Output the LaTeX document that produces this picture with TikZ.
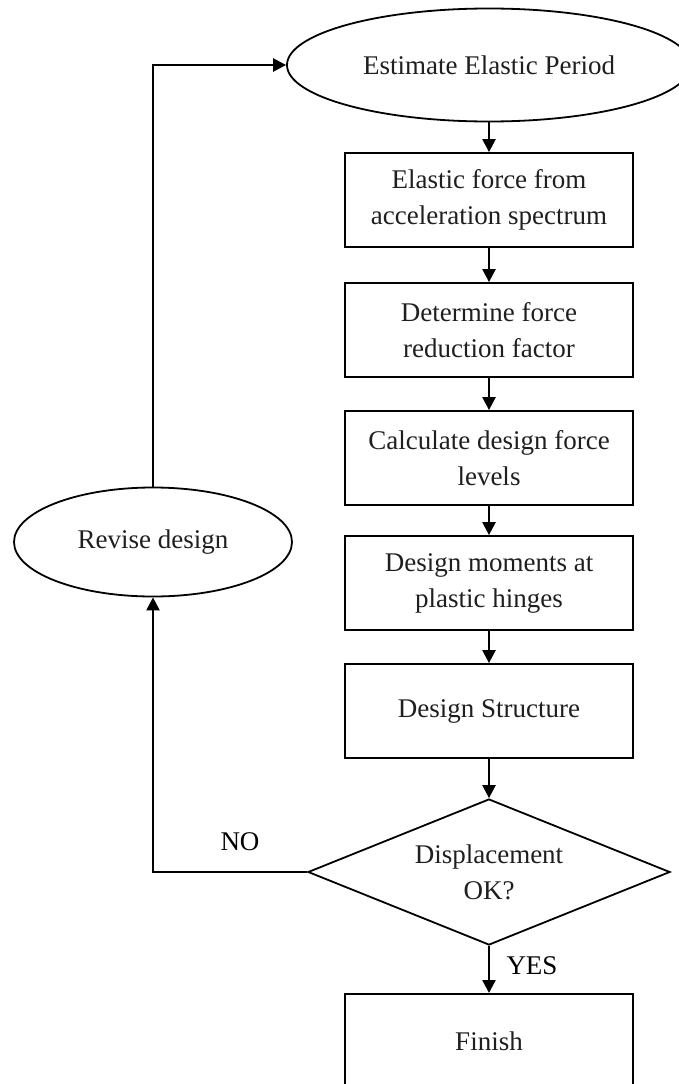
\documentclass[tikz,border=0pt]{standalone}
\usepackage{fontspec}
\setmainfont{Liberation Serif}
\usetikzlibrary{shapes.geometric,arrows.meta}
\begin{document}
\begin{tikzpicture}[x=1pt,y=-1pt,
  every node/.style={font=\fontsize{27}{36}\selectfont, text=black!88},
  stepbox/.style={draw, line width=1.8pt, minimum width=288pt, minimum height=94pt, align=center, inner sep=0pt},
  oval/.style={draw, ellipse, line width=1.8pt, inner sep=0pt},
  decision/.style={draw, diamond, aspect=2.48, line width=1.8pt, minimum width=362pt, minimum height=146pt, align=center, inner sep=0pt},
  flow/.style={line width=2.4pt, -{Triangle[width=13pt,length=13pt]}},
  lbl/.style={text=black}
]
\useasboundingbox (0,0) rectangle (679,1084);
\clip (0,0) rectangle (679,1084);

\node[oval, minimum width=404pt, minimum height=113pt] (period) at (489,65) {Estimate Elastic Period};
\node[stepbox] (elastic) at (489,200) {Elastic force from\\acceleration spectrum};
\node[stepbox] (reduction) at (489,330) {Determine force\\reduction factor};
\node[stepbox] (forces) at (489,458) {Calculate design force\\levels};
\node[stepbox] (moments) at (489,583) {Design moments at\\plastic hinges};
\node[stepbox] (structure) at (489,711) {Design Structure};
\node[decision] (check) at (489,872) {Displacement\\OK?};
\node[stepbox, anchor=north] (finish) at (489,993) {Finish};
\node[oval, minimum width=278pt, minimum height=109pt] (revise) at (153,542) {Revise design};

\node[lbl] (no) at (240,842) {NO};
\node[lbl] (yes) at (532,966) {YES};

\draw[flow] (period) -- (elastic);
\draw[flow] (elastic) -- (reduction);
\draw[flow] (reduction) -- (forces);
\draw[flow] (forces) -- (moments);
\draw[flow] (moments) -- (structure);
\draw[flow] (structure) -- (check);
\draw[flow] (check) -- (finish);
\draw[flow] (check.west) -| (revise.south);
\draw[flow] (revise.north) |- (period.west);
\end{tikzpicture}
\end{document}
